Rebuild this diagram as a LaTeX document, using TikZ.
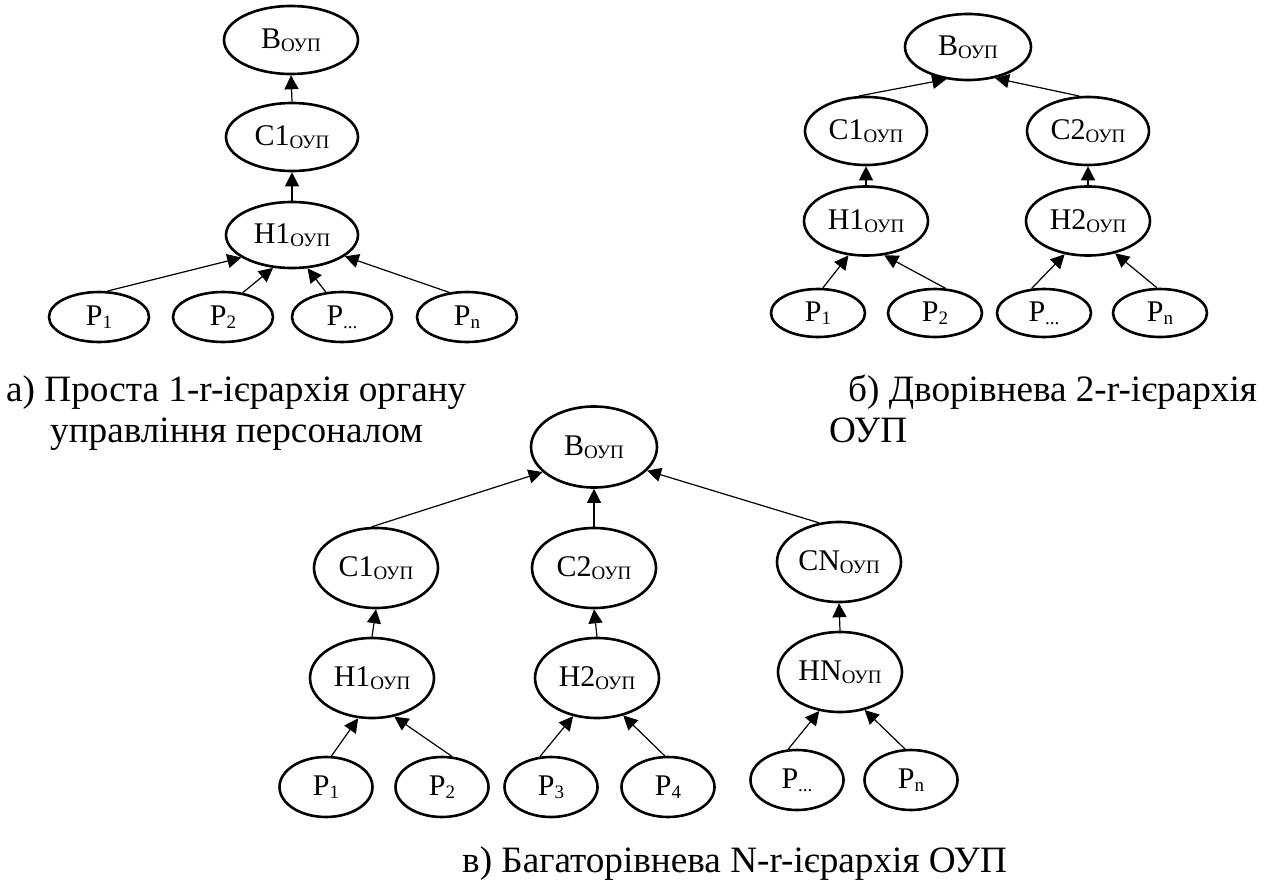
\documentclass[tikz,border=0pt]{standalone}
\usepackage{fontspec}
\setmainfont{Liberation Serif}
\usetikzlibrary{shapes.geometric,arrows.meta}
\newcommand{\nlab}[2]{{\fontsize{30}{34}\selectfont #1\raisebox{-3pt}{\fontsize{19}{22}\selectfont #2}}}
\newcommand{\capfont}{\fontsize{37.2}{42}\selectfont}
\tikzset{
  ell/.style={draw, ellipse, line width=2.6pt, inner sep=0pt},
  arr/.style={line width=1.2pt, -{Triangle[length=14pt,width=14pt]}},
  capt/.style={anchor=base west, inner sep=0pt, font=\capfont},
}
\begin{document}
\begin{tikzpicture}[x=1pt,y=-1pt]
\useasboundingbox (0,0) rectangle (1267,880);
% ---------- panel a ----------
\begin{scope}[every node/.append style={ell}]
\node[minimum width=134pt, minimum height=68pt] (aB) at (291,40) {\nlab{В}{ОУП}};
\node[minimum width=132pt, minimum height=68pt] (aC1) at (292,137) {\nlab{С1}{ОУП}};
\node[minimum width=132pt, minimum height=66pt] (aH1) at (292,235) {\nlab{Н1}{ОУП}};
\node[minimum width=100pt, minimum height=50pt] (aP1) at (99,317) {\nlab{Р}{1}};
\node[minimum width=100pt, minimum height=50pt] (aP2) at (223,317) {\nlab{Р}{2}};
\node[minimum width=100pt, minimum height=50pt] (aP3) at (342,317) {\nlab{Р}{...}};
\node[minimum width=100pt, minimum height=50pt] (aPn) at (467,317) {\nlab{Р}{n}};
\end{scope}
\draw[arr] (aC1.north) -- (aB.south);
\draw[arr] (aH1.north) -- (aC1.south);
\draw[arr] (aP1.72) -- (aH1.204);
\draw[arr] (aP2.51) -- (aH1.240);
\draw[arr] (aP3.123) -- (aH1.295);
\draw[arr] (aPn.126) -- (aH1.338);
% ---------- panel b ----------
\begin{scope}[every node/.append style={ell}]
\node[minimum width=126pt, minimum height=66pt] (bB) at (968,47) {\nlab{В}{ОУП}};
\node[minimum width=122pt, minimum height=68pt] (bC1) at (866,131) {\nlab{С1}{ОУП}};
\node[minimum width=122pt, minimum height=68pt] (bC2) at (1088,131) {\nlab{С2}{ОУП}};
\node[minimum width=124pt, minimum height=69pt] (bH1) at (866,221) {\nlab{Н1}{ОУП}};
\node[minimum width=124pt, minimum height=69pt] (bH2) at (1088,221) {\nlab{Н2}{ОУП}};
\node[minimum width=94pt, minimum height=48pt] (bP1) at (818,313) {\nlab{Р}{1}};
\node[minimum width=94pt, minimum height=48pt] (bP2) at (935,313) {\nlab{Р}{2}};
\node[minimum width=94pt, minimum height=48pt] (bP3) at (1044,313) {\nlab{Р}{...}};
\node[minimum width=94pt, minimum height=48pt] (bPn) at (1160,313) {\nlab{Р}{n}};
\end{scope}
\draw[arr] (bC1.101) -- (bB.236);
\draw[arr] (bC2.104) -- (bB.311);
\draw[arr] (bH1.north) -- (bC1.south);
\draw[arr] (bH2.north) -- (bC2.south);
\draw[arr] (bP1.79) -- (bH1.243);
\draw[arr] (bP2.67) -- (bH1.298);
\draw[arr] (bP3.117) -- (bH2.235);
\draw[arr] (bPn.97) -- (bH2.310);
% ---------- panel c ----------
\begin{scope}[every node/.append style={ell}]
\node[minimum width=126pt, minimum height=81pt] (cB) at (594,447) {\nlab{В}{ОУП}};
\node[minimum width=124pt, minimum height=80pt] (cC1) at (376,568) {\nlab{С1}{ОУП}};
\node[minimum width=124pt, minimum height=80pt] (cC2) at (594,568) {\nlab{С2}{ОУП}};
\node[minimum width=124pt, minimum height=80pt] (cCN) at (839,562) {\nlab{СN}{ОУП}};
\node[minimum width=124pt, minimum height=80pt] (cH1) at (372,678) {\nlab{Н1}{ОУП}};
\node[minimum width=124pt, minimum height=80pt] (cH2) at (597,678) {\nlab{Н2}{ОУП}};
\node[minimum width=124pt, minimum height=80pt] (cHN) at (840,672) {\nlab{НN}{ОУП}};
\node[minimum width=93pt, minimum height=60pt] (cP1) at (326,787) {\nlab{Р}{1}};
\node[minimum width=93pt, minimum height=60pt] (cP2) at (442,787) {\nlab{Р}{2}};
\node[minimum width=93pt, minimum height=60pt] (cP3) at (551,787) {\nlab{Р}{3}};
\node[minimum width=93pt, minimum height=60pt] (cP4) at (668,787) {\nlab{Р}{4}};
\node[minimum width=93pt, minimum height=60pt] (cP5) at (797,780) {\nlab{Р}{...}};
\node[minimum width=93pt, minimum height=60pt] (cPn) at (911,780) {\nlab{Р}{n}};
\end{scope}
\draw[arr] (cC1.96) -- (cB.206);
\draw[arr] (cC2.north) -- (cB.south);
\draw[arr] (cCN.117) -- (cB.336);
\draw[arr] (cH1.north) -- (cC1.south);
\draw[arr] (cH2.north) -- (cC2.south);
\draw[arr] (cHN.north) -- (cCN.south);
\draw[arr] (cP1.80) -- (cH1.251);
\draw[arr] (cP2.72) -- (cH1.300);
\draw[arr] (cP3.110) -- (cH2.238);
\draw[arr] (cP4.96) -- (cH2.305);
\draw[arr] (cP5.106) -- (cHN.242);
\draw[arr] (cPn.101) -- (cHN.303);
% ---------- captions ----------
\node[capt] (capa1) at (6,401) {а) Проста 1-r-ієрархія органу};
\node[capt] (capa2) at (50,442) {управління персоналом};
\node[capt] (capb1) at (848,401) {б) Дворівнева 2-r-ієрархія};
\node[capt] (capb2) at (829,442) {ОУП};
\node[capt] (capc) at (462,872) {в) Багаторівнева N-r-ієрархія ОУП};
\end{tikzpicture}
\end{document}
